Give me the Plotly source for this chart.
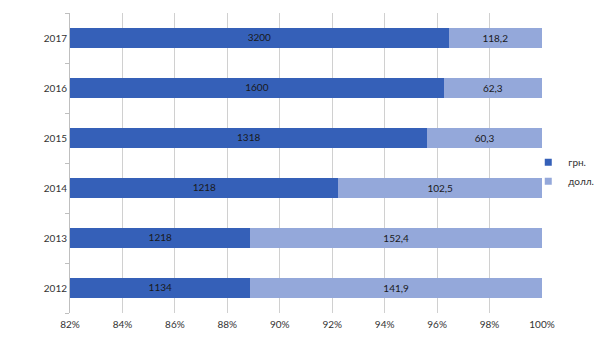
import plotly.graph_objects as go

years = ["2012", "2013", "2014", "2015", "2016", "2017"]
uah = [1134, 1218, 1218, 1318, 1600, 3200]
usd = [141.9, 152.4, 102.5, 60.3, 62.3, 118.2]
uah_labels = ["1134", "1218", "1218", "1318", "1600", "3200"]
usd_labels = ["141,9", "152,4", "102,5", "60,3", "62,3", "118,2"]
tick_vals = [82, 84, 86, 88, 90, 92, 94, 96, 98, 100]
tick_text = ["82%", "84%", "86%", "88%", "90%", "92%", "94%", "96%", "98%", "100%"]
x_min, x_max = 82, 100
c_uah = "#3560B8"
c_usd = "#94A8DA"

fig = go.Figure()
fig.add_trace(go.Bar(
    y=years, x=uah, orientation="h", name="грн.", showlegend=False,
    marker=dict(color=c_uah, line=dict(width=0)),
    hoverinfo="skip",
))
fig.add_trace(go.Bar(
    y=years, x=usd, orientation="h", name="долл.", showlegend=False,
    marker=dict(color=c_usd, line=dict(width=0)),
    text=usd_labels, textposition="inside", insidetextanchor="middle",
    textfont=dict(color="#1a1a1a", size=10), hoverinfo="skip",
))

# labels for the dark segment, centred in its visible part
centers = [(x_min + 100 * a / (a + b)) / 2 for a, b in zip(uah, usd)]
fig.add_trace(go.Scatter(x=centers, y=years, mode="text", text=uah_labels,
                         textposition="middle center", showlegend=False,
                         textfont=dict(color="#1a1a1a", size=10),
                         hoverinfo="skip"))

# legend entries with small square markers
for name, col in [("грн.", c_uah), ("долл.", c_usd)]:
    fig.add_trace(go.Scatter(x=[None], y=[None], mode="markers", name=name,
                             marker=dict(symbol="square", size=7, color=col)))

fig.update_layout(
    barmode="stack", barnorm="percent", bargap=0.6,
    width=610, height=343,
    margin=dict(l=70, r=68, t=13, b=30, autoexpand=False),
    paper_bgcolor="white", plot_bgcolor="white",
    font=dict(family="Lato, Open Sans, sans-serif", size=10, color="#333333"),
    showlegend=True,
    legend=dict(xref="container", yref="container", x=0.866, y=0.569,
                xanchor="left", yanchor="top", traceorder="normal",
                font=dict(size=10, color="#333333"),
                itemwidth=30, tracegroupgap=0, bgcolor="rgba(0,0,0,0)"),
    uniformtext=dict(minsize=8, mode="show"),
)
fig.update_xaxes(range=[x_min, x_max], tickvals=tick_vals, ticktext=tick_text,
                 showgrid=True, gridcolor="#D0D0D0", gridwidth=1,
                 zeroline=False, showline=False, ticks="", ticklen=0,
                 ticklabelstandoff=4,
                 tickfont=dict(size=10, color="#333333"))
fig.update_yaxes(type="category", categoryorder="array", categoryarray=years,
                 range=[-0.5, len(years) - 0.5],
                 showgrid=False, showline=True, linecolor="#BFBFBF",
                 ticks="outside", tickson="boundaries", ticklen=4,
                 tickcolor="#BFBFBF",
                 tickfont=dict(size=10, color="#333333"))

fig.write_html("out.html")
